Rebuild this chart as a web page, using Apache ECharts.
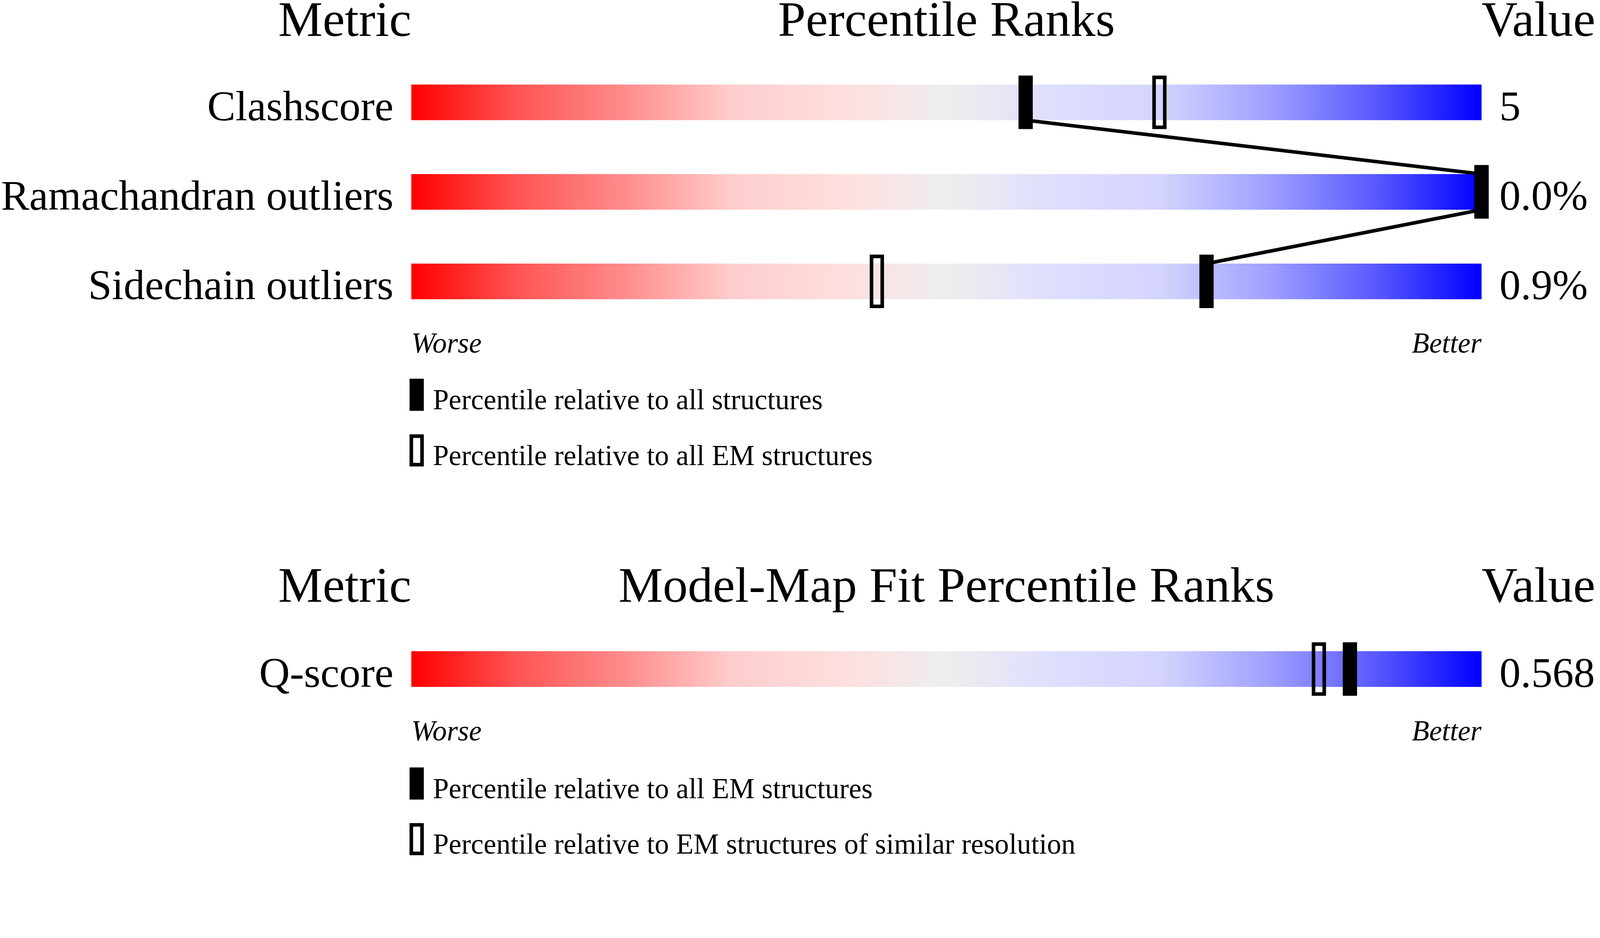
<!DOCTYPE html>
<html><head><meta charset="utf-8">
<script src="https://cdn.jsdelivr.net/npm/echarts@6/dist/echarts.min.js"></script>
<style>html,body{margin:0;padding:0;background:#fff;overflow:hidden}#c{width:100vw;height:100vh}</style>
</head><body><div id="c"></div>
<script>
// ---- data ----
const headersTop = ['Metric', 'Percentile Ranks', 'Value'];
const headersFit = ['Metric', 'Model-Map Fit Percentile Ranks', 'Value'];
const metricsTop = ['Clashscore', 'Ramachandran outliers', 'Sidechain outliers'];
const valuesTop = ['5', '0.0%', '0.9%'];
const trackTop = [100, 100, 100];
const pctAllTop = [57.4, 100, 74.3];
const pctEMTop = [69.9, 100, 43.5];
const metricsFit = ['Q-score'];
const valuesFit = ['0.568'];
const trackFit = [100];
const pctEMFit = [87.7];
const pctResFit = [84.8];
const scaleEnds = ['Worse', 'Better'];
const legendKeys = ['pAll', 'pEM', 'qEM', 'qRes'];
const legendTexts = ['Percentile relative to all structures', 'Percentile relative to all EM structures',
  'Percentile relative to all EM structures', 'Percentile relative to EM structures of similar resolution'];

// ---- style (designed for a 4485 x 2402 canvas, scaled to the viewport) ----
const s = Math.min(window.innerWidth / 4485, window.innerHeight / 2402);
const px = v => v * s;
const FONT = "'Liberation Serif', 'Times New Roman', serif";
const BAR_H = px(100);
const HOLLOW = 'path://M0,0H40V150H0Z M10,10V140H30V10Z';
const HOLLOW_LEG = 'path://M0,0H40V90H0Z M10,10V80H30V10Z';
const grad = {
  type: 'linear', x: 0, y: 0, x2: 1, y2: 0,
  colorStops: [
    {offset: 0.00, color: 'rgb(255,0,0)'},
    {offset: 0.10, color: 'rgb(255,85,85)'},
    {offset: 0.20, color: 'rgb(255,140,140)'},
    {offset: 0.30, color: 'rgb(255,205,205)'},
    {offset: 0.40, color: 'rgb(254,222,222)'},
    {offset: 0.50, color: 'rgb(238,238,238)'},
    {offset: 0.60, color: 'rgb(222,222,255)'},
    {offset: 0.70, color: 'rgb(212,212,255)'},
    {offset: 0.80, color: 'rgb(160,160,255)'},
    {offset: 0.90, color: 'rgb(90,90,255)'},
    {offset: 1.00, color: 'rgb(0,0,255)'}
  ]
};
const legendMap = {};
legendKeys.forEach((k, i) => legendMap[k] = legendTexts[i]);

function header(text, left, top, align) {
  return {text, left: px(left), top: px(top), textAlign: align, textVerticalAlign: 'top', padding: 0,
    textStyle: {fontFamily: FONT, fontSize: px(140), fontWeight: 'normal', color: '#000', lineHeight: px(100)}};
}
function xAxisFor(gi, margin) {
  return {type: 'value', gridIndex: gi, min: 0, max: 100, interval: 100,
    axisLine: {show: false}, axisTick: {show: false}, splitLine: {show: false},
    axisLabel: {show: true, margin: px(margin), fontFamily: FONT, fontStyle: 'italic', fontSize: px(80),
      lineHeight: px(80), color: '#000',
      alignMinLabel: 'left', alignMaxLabel: 'right', showMinLabel: true, showMaxLabel: true,
      formatter: v => v === 0 ? scaleEnds[0] : scaleEnds[1]}};
}
function yAxisFor(gi, data, pos) {
  return {type: 'category', gridIndex: gi, data, inverse: true, position: pos,
    axisLine: {show: false}, axisTick: {show: false}, splitLine: {show: false},
    axisLabel: {margin: px(50), fontFamily: FONT, fontSize: px(119), lineHeight: px(38), color: '#000',
      verticalAlign: 'top'}};
}
function segs(arr) {
  const out = [];
  for (let i = 0; i < arr.length - 1; i++) out.push([arr[i], i, arr[i + 1], i + 1]);
  return out;
}
function legendFor(top, keys) {
  return {orient: 'vertical', left: px(1148), top: px(top - 15), padding: 0, itemWidth: px(40), itemHeight: px(90),
    itemGap: px(36), selectedMode: false,
    data: [{name: keys[0], icon: 'rect'}, {name: keys[1], icon: HOLLOW_LEG}],
    formatter: n => '{t|' + legendMap[n] + '}',
    textStyle: {fontFamily: FONT, fontSize: px(80), color: '#000',
      rich: {t: {fontFamily: FONT, fontSize: px(80), color: '#000', lineHeight: px(40),
        padding: [px(40), 0, 0, px(20)]}}}};
}
function markerSeries(name, xi, yi, vals, symbol, z) {
  return {name, type: 'scatter', xAxisIndex: xi, yAxisIndex: yi, data: vals.map((v, i) => [v, i]),
    symbol, symbolSize: [px(40), px(150)], itemStyle: {color: '#000', opacity: 1}, silent: true, z};
}

const chart = echarts.init(document.getElementById('c'), null, {renderer: 'canvas'});
chart.setOption({
  backgroundColor: '#fff',
  animation: false,
  title: [
    header(headersTop[0], 1153, 14, 'right'),
    header(headersTop[1], 2653, 14, 'center'),
    header(headersTop[2], 4153, 14, 'left'),
    header(headersFit[0], 1153, 1601, 'right'),
    header(headersFit[1], 2653, 1601, 'center'),
    header(headersFit[2], 4153, 1601, 'left')
  ],
  legend: [legendFor(1062, ['pAll', 'pEM']), legendFor(2152, ['qEM', 'qRes'])],
  grid: [
    {left: px(1153), width: px(3000), top: px(161.5), height: px(753), outerBoundsMode: 'none', containLabel: false},
    {left: px(1153), width: px(3000), top: px(1750.5), height: px(251), outerBoundsMode: 'none', containLabel: false}
  ],
  xAxis: [xAxisFor(0, 13), xAxisFor(1, 13)],
  yAxis: [
    yAxisFor(0, metricsTop, 'left'), yAxisFor(0, valuesTop, 'right'),
    yAxisFor(1, metricsFit, 'left'), yAxisFor(1, valuesFit, 'right')
  ],
  series: [
    {type: 'bar', xAxisIndex: 0, yAxisIndex: 0, data: trackTop, barWidth: BAR_H, silent: true,
      itemStyle: {color: grad}, z: 1},
    {type: 'custom', xAxisIndex: 0, yAxisIndex: 0, data: segs(pctAllTop), encode: {x: [0, 2], y: [1, 3]},
      silent: true, z: 2,
      renderItem: (params, api) => {
        const p1 = api.coord([api.value(0), api.value(1)]);
        const p2 = api.coord([api.value(2), api.value(3)]);
        return {type: 'line', shape: {x1: p1[0], y1: p1[1] + BAR_H / 2, x2: p2[0], y2: p2[1] - BAR_H / 2},
          style: {stroke: '#000', lineWidth: px(10)}};
      }},
    markerSeries('pEM', 0, 0, pctEMTop, HOLLOW, 3),
    markerSeries('pAll', 0, 0, pctAllTop, 'rect', 4),
    {type: 'bar', xAxisIndex: 1, yAxisIndex: 2, data: trackFit, barWidth: BAR_H, silent: true,
      itemStyle: {color: grad}, z: 1},
    markerSeries('qRes', 1, 2, pctResFit, HOLLOW, 3),
    markerSeries('qEM', 1, 2, pctEMFit, 'rect', 4)
  ]
});
</script>
</body></html>
